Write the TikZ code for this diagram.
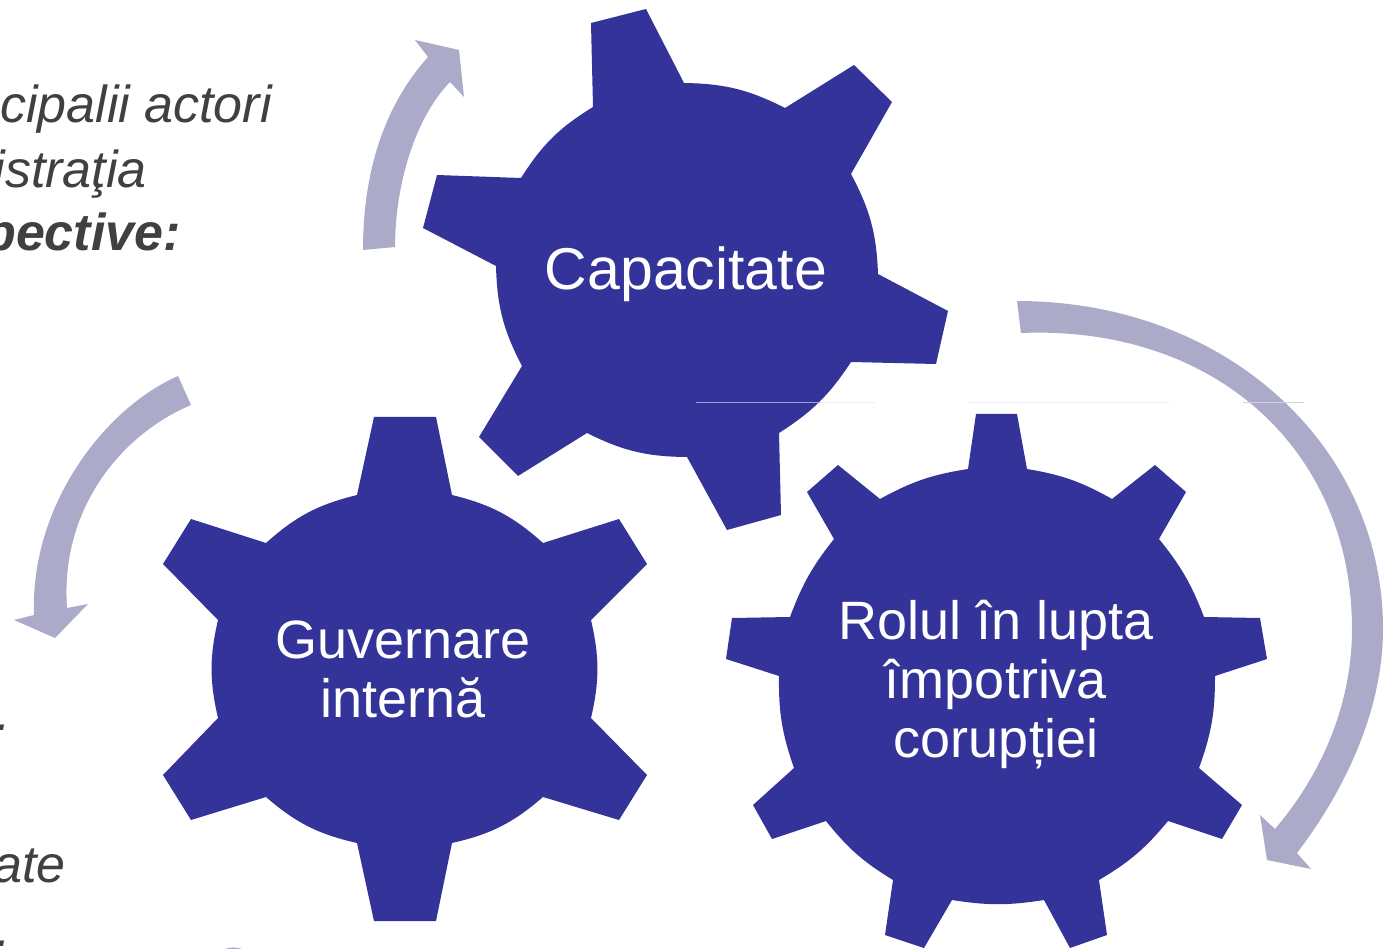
\documentclass[tikz,border=0pt]{standalone}
\usepackage{fontspec}
\setmainfont{Liberation Sans}
\usetikzlibrary{calc, positioning}

\definecolor{gearblue}{RGB}{51,51,153}
\definecolor{arcgrey}{RGB}{171,171,201}
\definecolor{textgrey}{RGB}{64,64,64}
\definecolor{scrapblue}{RGB}{150,175,220}

\begin{document}
\begin{tikzpicture}[x=1pt, y=-1pt]
    \tikzset{
        gear/.style = {fill=gearblue, draw=none},
        arc/.style = {fill=arcgrey, draw=none},
        gearlabel/.style = {text=white, align=center, inner sep=0pt,
                            font=\fontsize{54}{59}\selectfont},
        sidetext/.style = {text=textgrey, anchor=base east, inner sep=0pt,
                           font=\fontsize{52}{64}\selectfont\itshape},
        seam/.style = {line width=0.8pt}
    }

    \useasboundingbox (0,0) rectangle (1385,949);

    % Roata de sus
    \fill [gear] (591,23) -- (646,9) -- (684,83)
        to[bend left=13] (785,108) -- (854,65) -- (892,102) -- (851,174)
        to[bend left=13] (878,274) -- (948,311) -- (936,364) -- (851,362)
        to[bend left=12] (779,433) -- (781,515) -- (727,530) -- (687,457)
        to[bend left=13] (587,433) -- (518,476) -- (479,437) -- (522,366)
        to[bend left=13] (496,266) -- (423,228) -- (437,175) -- (521,178)
        to[bend left=13] (593,107) -- cycle;
    \node [gearlabel, font=\fontsize{59}{64}\selectfont] (capacity) at (686,274) {Capacitate};

    % Roata din stanga
    \fill [gear] (374,417) -- (436,417) -- (452,495)
        to[bend left=14] (543,543) -- (619,519) -- (647,564) -- (591,620)
        to[bend left=13] (591,718) -- (647,775) -- (619,820) -- (543,797)
        to[bend left=14] (452,843) -- (436,921) -- (374,921) -- (357,843)
        to[bend left=14] (266,797) -- (191,820) -- (163,775) -- (218,718)
        to[bend left=13] (218,620) -- (163,564) -- (191,519) -- (266,543)
        to[bend left=14] (357,495) -- cycle;
    \node [gearlabel] (governance) at (403,669) {Guvernare\\internă};

    % Roata din dreapta
    \fill [gear] (976,414) -- (1017,414) -- (1027,469)
        to[bend left=10] (1112,499) -- (1155,465) -- (1186,492) -- (1159,539)
        to[bend left=9] (1204,617) -- (1260,618) -- (1267,659) -- (1215,676)
        to[bend left=10] (1199,768) -- (1242,805) -- (1222,839) -- (1168,821)
        to[bend left=10] (1099,880) -- (1107,935) -- (1070,948) -- (1044,900)
        to[bend left=9] (952,900) -- (924,948) -- (885,935) -- (893,880)
        to[bend left=10] (826,821) -- (772,839) -- (753,805) -- (794,768)
        to[bend left=10] (779,676) -- (726,659) -- (732,618) -- (790,617)
        to[bend left=9] (834,539) -- (807,492) -- (838,465) -- (880,499)
        to[bend left=10] (968,469) -- cycle;
    \node [gearlabel] (fight) at (996,685) {Rolul în lupta\\împotriva\\corupției};

    % Sageti
    \fill [arc] (363,250) .. controls (363,170) and (385,105) .. (428,57)
        -- (415,40) -- (459,50) -- (464,97) -- (450,82)
        .. controls (415,118) and (395,185) .. (395,247) -- cycle;
    \fill [arc] (1017,301) .. controls (1225,301) and (1383,445) .. (1383,629)
        .. controls (1383,710) and (1345,790) .. (1297,853)
        -- (1311,869) -- (1267,860) -- (1260,815) -- (1275,829)
        .. controls (1325,770) and (1352,700) .. (1352,629)
        .. controls (1352,450) and (1215,325) .. (1021,333) -- cycle;
    \fill [arc] (178,376) .. controls (105,408) and (30,505) .. (34,615)
        -- (14,620) -- (55,638) -- (88,604) -- (67,608)
        .. controls (60,510) and (120,435) .. (191,405) -- cycle;

    % Textul din stanga, taiat de margine
    \node [sidetext] (actors) at (272,123) {cipalii actori};
    \node [sidetext] (admin) at (147,188) {istraţia};
    \node [sidetext, font=\fontsize{52}{64}\selectfont\itshape\bfseries] (view) at (181,251) {pective:};
    \node [sidetext] (dotone) at (11,730) {.};
    \node [sidetext] (rate) at (66,882) {ate};
    \node [sidetext] (dottwo) at (11,946) {.};

    % Urme din imagine
    \draw [seam, color=gearblue!45!white] (696,402) -- (820,402);
    \draw [seam, color=gearblue!8!white] (820,402) -- (876,402);
    \draw [seam, color=gearblue!8!white] (968,402) -- (1170,402);
    \draw [seam, color=arcgrey!55!white] (1243,402) -- (1304,402);
    \fill [fill=scrapblue] (223,950) to[bend left=25] (244,950) -- cycle;
\end{tikzpicture}
\end{document}
